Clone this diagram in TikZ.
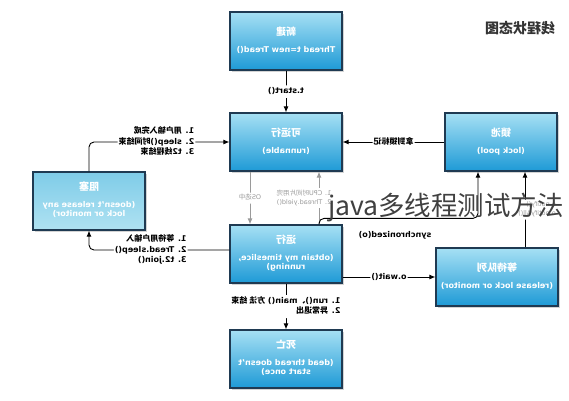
\documentclass[tikz,border=0pt]{standalone}
\usepackage{fontspec}
\setmainfont{DejaVu Sans}
\newfontfamily\cjk{Noto Sans CJK SC}
\usepackage{graphicx}
\usepackage{xcolor}
\usetikzlibrary{arrows.meta, positioning, calc, shadows}

\definecolor{boxtop}{HTML}{A6E0F4}
\definecolor{boxbot}{HTML}{1E9AD6}
\definecolor{boxline}{HTML}{1F3A52}
\definecolor{lighttop}{HTML}{7FCCE8}
\definecolor{lightbot}{HTML}{AFE2F2}
\definecolor{greyline}{HTML}{9A9A9A}

% mirrored text block
\newcommand{\mir}[2][c]{\reflectbox{\begin{tabular}{@{}#1@{}}#2\end{tabular}}}
\newcommand{\titlefont}{\fontsize{10}{12}\selectfont\cjk}

\begin{document}
\begin{tikzpicture}[x=1pt, y=-1pt,
  state/.style={draw=boxline, line width=1.2pt, top color=boxtop, bottom color=boxbot,
    minimum width=112pt, minimum height=58pt, text=white, inner sep=2pt,
    font=\fontsize{8}{9.5}\selectfont\bfseries,
    drop shadow={shadow xshift=2pt, shadow yshift=-2pt, opacity=0.35}},
  lbl/.style={font=\fontsize{8}{10.5}\selectfont\bfseries, fill=white, inner sep=1pt},
  greylbl/.style={lbl, text=greyline, font=\fontsize{6.5}{9}\selectfont},
  conn/.style={-{Latex[length=6pt,width=5pt]}, line width=0.9pt, rounded corners=5pt}]
  \useasboundingbox (0,0) rectangle (569,400);

  % Zustaende
  \node[state] (new) at (286,41) {\mir{{\titlefont 新建}\\[7pt]Thread t=new Tread()}};
  \node[state] (runnable) at (286,142) {\mir{{\titlefont 可运行}\\[7pt](runnable)}};
  \node[state] (lockpool) at (501,142) {\mir{{\titlefont 锁池}\\[7pt](lock pool)}};
  \node[state, top color=lighttop, bottom color=lightbot] (blocked) at (89,201)
    {\mir{{\titlefont 阻塞}\\[7pt](doesn't release any\\lock or monitor)}};
  \node[state] (running) at (286,254) {\mir{{\titlefont 运行}\\[7pt](obtain my timeslice,\\running)}};
  \node[state, minimum width=122pt] (waitpool) at (497,277) {\mir{{\titlefont 等待队列}\\[7pt](release lock or monitor)}};
  \node[state] (dead) at (286,359) {\mir{{\titlefont 死亡}\\[7pt](dead thread doesn't\\start once)}};

  \node[font=\fontsize{14}{16}\selectfont\cjk\bfseries, text=black!80] (title) at (520,28) {\reflectbox{线程状态图}};

  % Uebergaenge
  \draw[conn] (new) -- node[lbl] {\mir{t.start()}} (runnable);
  \draw[conn] (lockpool) -- node[lbl] {\mir{\cjk 拿到锁标记}} (runnable);
  \draw[conn] (blocked.north) |- node[lbl, pos=0.74]
    {\mir[l]{1. {\cjk 用户输入完成}\\2. sleep(){\cjk 时间结束}\\3. t2{\cjk 线程结束}}} (runnable.west);
  \draw[conn, greyline] ($(runnable.south)+(-36,0)$) -- node[greylbl] {\mir{OS{\cjk 选中}}} ($(running.north)+(-36,0)$);
  \draw[conn, greyline] ($(running.north)+(33,0)$) -- ($(runnable.south)+(33,0)$);
  \node[greylbl] (yieldlbl) at (304,198) {\mir[l]{1. CPU{\cjk 时间片用完}\\2. Thread.yield()}};
  \draw[conn] ($(running.north)+(33,0)$) -- ++(0,-6) -| ($(lockpool.south)+(-23,0)$);
  \node[lbl, fill=none] (synclbl) at (395,235) {\mir{synchronized(o)}};
  \draw[conn] ($(waitpool.north)+(28,0)$) -- node[greylbl, xshift=12pt]
    {\mir[l]{o.notify()\\o.notifyAll()}} ($(lockpool.south)+(24,0)$);
  \draw[conn] (running.east |- waitpool.west) -- node[lbl] {\mir{o.wait()}} (waitpool.west);
  \draw[conn] ($(running.west)+(0,-4)$) -| node[lbl, pos=0.28]
    {\mir[l]{1. {\cjk 等待用户输入}\\2. Tread.sleep()\\3. t2.join()}} (blocked.south);
  \draw[conn] (running) -- node[lbl] {\mir[l]{1. run(){\cjk 、}main() {\cjk 方法 结束}\\2. {\cjk 异常退出}}} (dead);

  % Wasserzeichen
  \node[font=\fontsize{26.5}{28}\selectfont\cjk, text=black!75] (mark) at (446,207) {java多线程测试方法};
\end{tikzpicture}
\end{document}
